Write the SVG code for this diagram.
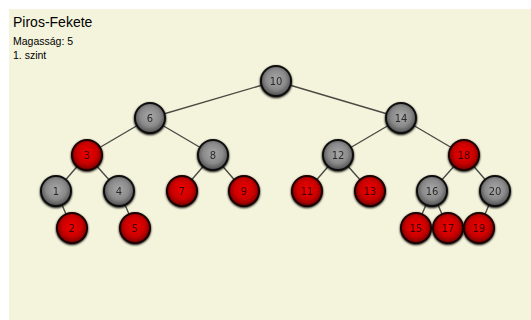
<svg xmlns="http://www.w3.org/2000/svg" width="531" height="320" viewBox="0 0 531 320">
  <style>
    .edge { stroke: #4a4a44; stroke-width: 1.4; fill: none; }
    .black circle { fill: url(#gBlack); stroke: #111; stroke-width: 2; }
    .red circle { fill: url(#gRed); stroke: #1a0000; stroke-width: 2; }
    .node text { font-family: "DejaVu Sans", Verdana, sans-serif; font-size: 10px; text-anchor: middle; dominant-baseline: central; }
    .black text { fill: #2a2a2a; }
    .red text { fill: #3a0000; }
    .hdr { font-family: "Liberation Sans", Arial, sans-serif; fill: #000; }
  </style>
  <defs>
    <radialGradient id="gBlack" cx="50%" cy="45%" r="55%">
      <stop offset="0" stop-color="#a8a8a8"/>
      <stop offset="0.6" stop-color="#8a8a8a"/>
      <stop offset="1" stop-color="#4e4e4e"/>
    </radialGradient>
    <radialGradient id="gRed" cx="50%" cy="45%" r="55%">
      <stop offset="0" stop-color="#ee0000"/>
      <stop offset="0.6" stop-color="#cc0000"/>
      <stop offset="1" stop-color="#7a0000"/>
    </radialGradient>
    <filter id="shade" x="-30%" y="-30%" width="160%" height="160%">
      <feGaussianBlur in="SourceAlpha" stdDeviation="0.8"/>
      <feOffset dx="0" dy="0.5" result="b"/>
      <feMerge><feMergeNode in="b"/><feMergeNode in="SourceGraphic"/></feMerge>
    </filter>
  </defs>

  <rect x="0" y="0" width="531" height="320" fill="#ffffff"/>
  <rect x="9" y="9" width="522" height="311" fill="#f4f4dc"/>

  <text class="hdr" x="13" y="27" font-size="14">Piros-Fekete</text>
  <text class="hdr" x="13" y="45" font-size="10.5">Magasság: 5</text>
  <text class="hdr" x="13" y="59" font-size="10.5">1. szint</text>

  <g id="edges">
    <line class="edge" x1="276" y1="81" x2="150" y2="118"/>
    <line class="edge" x1="276" y1="81" x2="401" y2="118"/>
    <line class="edge" x1="150" y1="118" x2="87" y2="155"/>
    <line class="edge" x1="150" y1="118" x2="213" y2="155"/>
    <line class="edge" x1="401" y1="118" x2="338" y2="155"/>
    <line class="edge" x1="401" y1="118" x2="464" y2="155"/>
    <line class="edge" x1="87" y1="155" x2="56" y2="191"/>
    <line class="edge" x1="87" y1="155" x2="119" y2="191"/>
    <line class="edge" x1="213" y1="155" x2="182" y2="191"/>
    <line class="edge" x1="213" y1="155" x2="244" y2="191"/>
    <line class="edge" x1="338" y1="155" x2="307" y2="191"/>
    <line class="edge" x1="338" y1="155" x2="370" y2="191"/>
    <line class="edge" x1="464" y1="155" x2="432" y2="191"/>
    <line class="edge" x1="464" y1="155" x2="495" y2="191"/>
    <line class="edge" x1="56" y1="191" x2="72" y2="228"/>
    <line class="edge" x1="119" y1="191" x2="135" y2="228"/>
    <line class="edge" x1="432" y1="191" x2="416" y2="228"/>
    <line class="edge" x1="432" y1="191" x2="448" y2="228"/>
    <line class="edge" x1="495" y1="191" x2="479" y2="228"/>
  </g>

  <g id="n10" class="node black" filter="url(#shade)"><circle cx="276" cy="81" r="15"/><text x="276" y="81">10</text></g>
  <g id="n6" class="node black" filter="url(#shade)"><circle cx="150" cy="118" r="15"/><text x="150" y="118">6</text></g>
  <g id="n14" class="node black" filter="url(#shade)"><circle cx="401" cy="118" r="15"/><text x="401" y="118">14</text></g>
  <g id="n3" class="node red" filter="url(#shade)"><circle cx="87" cy="155" r="15"/><text x="87" y="155">3</text></g>
  <g id="n8" class="node black" filter="url(#shade)"><circle cx="213" cy="155" r="15"/><text x="213" y="155">8</text></g>
  <g id="n12" class="node black" filter="url(#shade)"><circle cx="338" cy="155" r="15"/><text x="338" y="155">12</text></g>
  <g id="n18" class="node red" filter="url(#shade)"><circle cx="464" cy="155" r="15"/><text x="464" y="155">18</text></g>
  <g id="n1" class="node black" filter="url(#shade)"><circle cx="56" cy="191" r="15"/><text x="56" y="191">1</text></g>
  <g id="n4" class="node black" filter="url(#shade)"><circle cx="119" cy="191" r="15"/><text x="119" y="191">4</text></g>
  <g id="n7" class="node red" filter="url(#shade)"><circle cx="182" cy="191" r="15"/><text x="182" y="191">7</text></g>
  <g id="n9" class="node red" filter="url(#shade)"><circle cx="244" cy="191" r="15"/><text x="244" y="191">9</text></g>
  <g id="n11" class="node red" filter="url(#shade)"><circle cx="307" cy="191" r="15"/><text x="307" y="191">11</text></g>
  <g id="n13" class="node red" filter="url(#shade)"><circle cx="370" cy="191" r="15"/><text x="370" y="191">13</text></g>
  <g id="n16" class="node black" filter="url(#shade)"><circle cx="432" cy="191" r="15"/><text x="432" y="191">16</text></g>
  <g id="n20" class="node black" filter="url(#shade)"><circle cx="495" cy="191" r="15"/><text x="495" y="191">20</text></g>
  <g id="n2" class="node red" filter="url(#shade)"><circle cx="72" cy="228" r="15"/><text x="72" y="228">2</text></g>
  <g id="n5" class="node red" filter="url(#shade)"><circle cx="135" cy="228" r="15"/><text x="135" y="228">5</text></g>
  <g id="n15" class="node red" filter="url(#shade)"><circle cx="416" cy="228" r="15"/><text x="416" y="228">15</text></g>
  <g id="n17" class="node red" filter="url(#shade)"><circle cx="448" cy="228" r="15"/><text x="448" y="228">17</text></g>
  <g id="n19" class="node red" filter="url(#shade)"><circle cx="479" cy="228" r="15"/><text x="479" y="228">19</text></g>
</svg>
